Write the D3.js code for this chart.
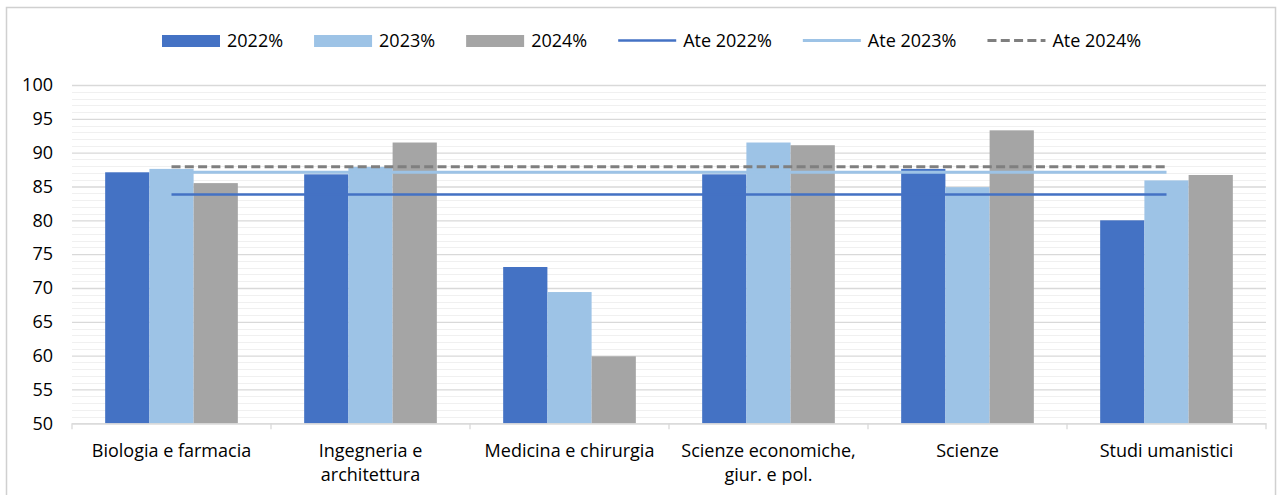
<!DOCTYPE html>
<html>
<head>
<meta charset="utf-8">
<script src="https://cdn.jsdelivr.net/npm/d3@7"></script>
<style>
  html, body { margin: 0; padding: 0; background: #fff; }
  svg { display: block; font-family: "Open Sans", "Noto Sans", sans-serif; }
</style>
</head>
<body>
<svg id="chart" width="1281" height="495"></svg>
<script>
// ---- data ----
const categories = [
  ["Biologia e farmacia"],
  ["Ingegneria e", "architettura"],
  ["Medicina e chirurgia"],
  ["Scienze economiche,", "giur. e pol."],
  ["Scienze"],
  ["Studi umanistici"]
];
const seriesNames = ["2022%", "2023%", "2024%"];
const values2022 = [87.1, 86.8, 73.1, 86.8, 87.6, 80.0];
const values2023 = [87.6, 87.9, 69.4, 91.5, 84.9, 85.9];
const values2024 = [85.5, 91.5, 59.9, 91.1, 93.3, 86.7];
const lineNames = ["Ate 2022%", "Ate 2023%", "Ate 2024%"];
const ate2022 = [83.8, 83.8, 83.8, 83.8, 83.8, 83.8];
const ate2023 = [87.1, 87.1, 87.1, 87.1, 87.1, 87.1];
const ate2024 = [87.9, 87.9, 87.9, 87.9, 87.9, 87.9];
const yTicks = [50, 55, 60, 65, 70, 75, 80, 85, 90, 95, 100];
const yMinorTicks = d3.range(50, 101, 1);

// ---- styles ----
const barColors = ["#4472C4", "#9DC3E6", "#A5A5A5"];
const lineStyles = [
  { color: "#4472C4", width: 2.5, dash: null },
  { color: "#9DC3E6", width: 3, dash: null },
  { color: "#7F7F7F", width: 3, dash: "9,4.3" }
];
const FS = "18px";

const svg = d3.select("#chart");
const margin = { left: 72, right: 1266, top: 85, bottom: 423.3 };

// frame
svg.append("rect").attr("x", 6.5).attr("y", 7.5).attr("width", 1269).attr("height", 500)
  .attr("fill", "none").attr("stroke", "#d0d0d0").attr("stroke-width", 1.5);

const catIdx = categories.map((d, i) => i);
const x = d3.scaleBand().domain(catIdx).range([margin.left, margin.right]).paddingInner(0).paddingOuter(0);
const y = d3.scaleLinear().domain([50, 100]).range([margin.bottom, margin.top]);
const groupW = x.bandwidth() * 3 / 4.5;
const xs = d3.scaleBand().domain([0, 1, 2]).range([(x.bandwidth() - groupW) / 2, (x.bandwidth() + groupW) / 2]);

// minor gridlines
svg.append("g").selectAll("line").data(yMinorTicks.filter(v => v % 5 !== 0)).join("line")
  .attr("x1", margin.left).attr("x2", margin.right)
  .attr("y1", d => Math.round(y(d)) + 0.5).attr("y2", d => Math.round(y(d)) + 0.5)
  .attr("stroke", "#f0f0f0").attr("stroke-width", 1);

// major gridlines + y axis labels
const yAxis = d3.axisLeft(y).tickValues(yTicks).tickSize(-(margin.right - margin.left)).tickPadding(19);
const gy = svg.append("g").attr("transform", `translate(${margin.left},0)`).call(yAxis);
gy.select(".domain").remove();
gy.selectAll(".tick line").attr("stroke", "#d9d9d9").attr("stroke-width", 1.3);
gy.selectAll(".tick text").attr("fill", "#000").style("font-size", FS)
  .style("font-family", '"Open Sans", sans-serif');

// bars
const seriesVals = [values2022, values2023, values2024];
const gBars = svg.append("g");
seriesVals.forEach((vals, s) => {
  gBars.append("g").selectAll("rect").data(vals).join("rect")
    .attr("x", (d, i) => x(i) + xs(s))
    .attr("width", xs.bandwidth())
    .attr("y", d => y(d))
    .attr("height", d => y(50) - y(d))
    .attr("fill", barColors[s]);
});

// x axis
const xAxis = d3.axisBottom(x).tickSize(0).tickFormat(() => "");
const gx = svg.append("g").attr("transform", `translate(0,${margin.bottom})`).call(xAxis);
gx.select(".domain").attr("stroke", "#d9d9d9").attr("stroke-width", 1.3);
// category boundary ticks
const bounds = catIdx.map(i => x(i)).concat([margin.right]);
svg.append("g").selectAll("line").data(bounds).join("line")
  .attr("x1", d => d).attr("x2", d => d)
  .attr("y1", margin.bottom).attr("y2", margin.bottom + 6)
  .attr("stroke", "#d9d9d9").attr("stroke-width", 1.3);
// category labels
svg.append("g").selectAll("text").data(categories).join("text")
  .attr("x", (d, i) => x(i) + x.bandwidth() / 2)
  .attr("y", 457)
  .attr("text-anchor", "middle")
  .style("font-size", FS)
  .attr("fill", "#000")
  .each(function(d) {
    const t = d3.select(this);
    d.forEach((line, k) => {
      t.append("tspan").attr("x", t.attr("x")).attr("dy", k === 0 ? 0 : 24).text(line);
    });
  });

// lines
const lineVals = [ate2022, ate2023, ate2024];
const lineGen = d3.line().x((d, i) => x(i) + x.bandwidth() / 2).y(d => y(d));
lineVals.forEach((vals, k) => {
  svg.append("path").datum(vals).attr("d", lineGen)
    .attr("fill", "none").attr("stroke", lineStyles[k].color)
    .attr("stroke-width", lineStyles[k].width)
    .attr("stroke-dasharray", lineStyles[k].dash);
});

// legend
const legend = svg.append("g").style("font-size", FS);
const legendItems = seriesNames.map((n, i) => ({ name: n, type: "bar", i }))
  .concat(lineNames.map((n, i) => ({ name: n, type: "line", i })));
let lx = 162;
legendItems.forEach(it => {
  const g = legend.append("g").attr("transform", `translate(${lx},0)`);
  if (it.type === "bar") {
    g.append("rect").attr("x", 0).attr("y", 35).attr("width", 58).attr("height", 12).attr("fill", barColors[it.i]);
  } else {
    const st = lineStyles[it.i];
    g.append("line").attr("x1", 0).attr("x2", 58).attr("y1", 40.5).attr("y2", 40.5)
      .attr("stroke", st.color).attr("stroke-width", st.width).attr("stroke-dasharray", st.dash);
  }
  const t = g.append("text").attr("x", 65).attr("y", 47).attr("fill", "#000").text(it.name);
  lx += 65 + t.node().getComputedTextLength() + 31;
});
</script>
</body>
</html>
